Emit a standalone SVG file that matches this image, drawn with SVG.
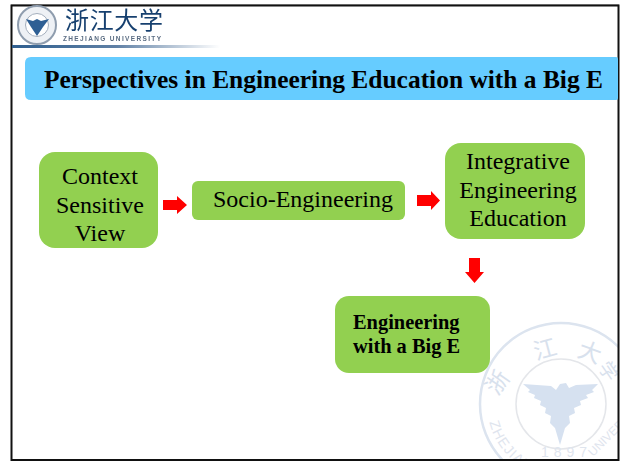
<svg xmlns="http://www.w3.org/2000/svg" width="621" height="461" viewBox="0 0 621 461">
<style>
.box{fill:#92d050}
.t{font-family:"Liberation Serif",serif;font-size:24px;fill:#000;text-anchor:middle}
.b{font-family:"Liberation Serif",serif;font-size:20.400px;font-weight:bold;fill:#000}
.arrow{fill:#f00}
.wm{font-family:"Liberation Sans",sans-serif;font-size:14px;fill:#dfe5ee}
.wc{font-family:"Noto Sans CJK SC",sans-serif;font-size:23px;fill:#d8e1ed;text-anchor:middle}
</style>
<defs>
<linearGradient id="rule" x1="0" x2="1" y1="0" y2="0">
<stop offset="0" stop-color="#2f5f8f"/><stop offset="0.5" stop-color="#5f80a5"/><stop offset="1" stop-color="#fff"/>
</linearGradient>
<path id="botArc" d="M 487 404 A 74 74 0 0 0 635 404"/>
<clipPath id="page"><rect x="12" y="6" width="606" height="453"/></clipPath>
<filter id="soft" x="-5%" y="-5%" width="110%" height="110%"><feGaussianBlur stdDeviation="0.45"/></filter>
</defs>
<rect width="621" height="461" fill="#fff"/>
<g id="watermark" clip-path="url(#page)">
<circle cx="561" cy="404" r="81" fill="none" stroke="#dce4ef" stroke-width="2.500"/>
<circle cx="561" cy="404" r="45" fill="none" stroke="#e4e6ea" stroke-width="1.500"/>
<path d="M523 384 L551 386 L556 390 L560 384 L566 383 L569 388 L576 385 L598 384 L592 390 L594 392 L586 395 L588 398 L580 401 L581 405 L574 408 L575 413 L569 416 L570 423 L565 428 L560 445 L555 428 L550 423 L551 416 L545 413 L546 408 L540 405 L541 401 L534 398 L535 395 L528 392 L530 390 Z" fill="#d6e1f0"/>
<text class="wc" transform="translate(504 387) rotate(-55)">浙</text>
<text class="wc" transform="translate(547 357) rotate(-15)">江</text>
<text class="wc" transform="translate(587 360) rotate(20)">大</text>
<text class="wc" transform="translate(603 375) rotate(55)" style="font-size:19px">学</text>
<text class="wm" letter-spacing="1"><textPath href="#botArc" startOffset="8%">ZHEJIANG</textPath></text>
<text class="wm" letter-spacing="5" x="541" y="457">1897</text>
<text class="wm" transform="translate(593 457) rotate(-45)" style="font-size:12px">UNIVERSITY</text>
</g>
<g id="frame">
<rect x="11.500" y="5.500" width="607" height="454.500" fill="none" stroke="#111" stroke-width="2"/>
<rect x="11" y="4" width="608" height="1" fill="#666"/>
</g>
<g id="logo" filter="url(#soft)">
<circle cx="37" cy="25" r="19" fill="#eef1f5" stroke="#8f9dae" stroke-width="2"/>
<circle cx="37" cy="25" r="11.500" fill="#fff" stroke="#a4afbd"/>
<path d="M26 19 L33 21 L37 19 L41 21 L49 19 L43 27 L37 36 L31 27 Z" fill="#2d5f94"/>
<text x="65" y="29" font-family="'Noto Sans CJK SC',sans-serif" font-size="24" fill="#17406f" textLength="98" lengthAdjust="spacing">浙江大学</text>
<text x="63" y="41" font-family="'Liberation Sans',sans-serif" font-size="6.500" font-weight="bold" fill="#5a6c82" textLength="98" lengthAdjust="spacing">ZHEJIANG UNIVERSITY</text>
<rect x="12" y="45" width="208" height="3" fill="url(#rule)"/>
</g>
<g id="title">
<path d="M31 57 H616 Q618 57 618 59 V98 Q618 100 616 100 H31 Q25 100 25 94 V63 Q25 57 31 57 Z" fill="#66ccff"/>
<text x="44" y="88" font-family="'Liberation Serif',serif" font-size="25px" font-weight="bold" textLength="559" lengthAdjust="spacingAndGlyphs">Perspectives in Engineering Education with a Big E</text>
</g>
<g id="connectors">
<path class="arrow" d="M163 200 H177 V196 L187 205 L177 214 V210 H163 Z"/>
<path class="arrow" d="M417 195 H431 V191 L440 200.500 L431 210 V206 H417 Z"/>
<path class="arrow" d="M469 258 H480 V272 H484 L474.500 283 L465 272 H469 Z"/>
</g>
<g id="node-context">
<rect class="box" x="39" y="152" width="119" height="96" rx="16"/>
<text class="t" x="100" y="184">Context</text>
<text class="t" x="100" y="213">Sensitive</text>
<text class="t" x="100" y="241">View</text>
</g>
<g id="node-socio">
<rect class="box" x="192" y="181" width="213" height="39" rx="6"/>
<text class="t" x="303" y="207">Socio-Engineering</text>
</g>
<g id="node-integrative">
<rect class="box" x="445" y="143" width="140" height="96" rx="16"/>
<text class="t" x="518" y="169">Integrative</text>
<text class="t" x="518" y="198">Engineering</text>
<text class="t" x="518" y="226">Education</text>
</g>
<g id="node-bige">
<rect class="box" x="335" y="296" width="155" height="77" rx="14"/>
<text class="b" x="353" y="329">Engineering</text>
<text class="b" x="353" y="353">with a Big E</text>
</g>
</svg>
